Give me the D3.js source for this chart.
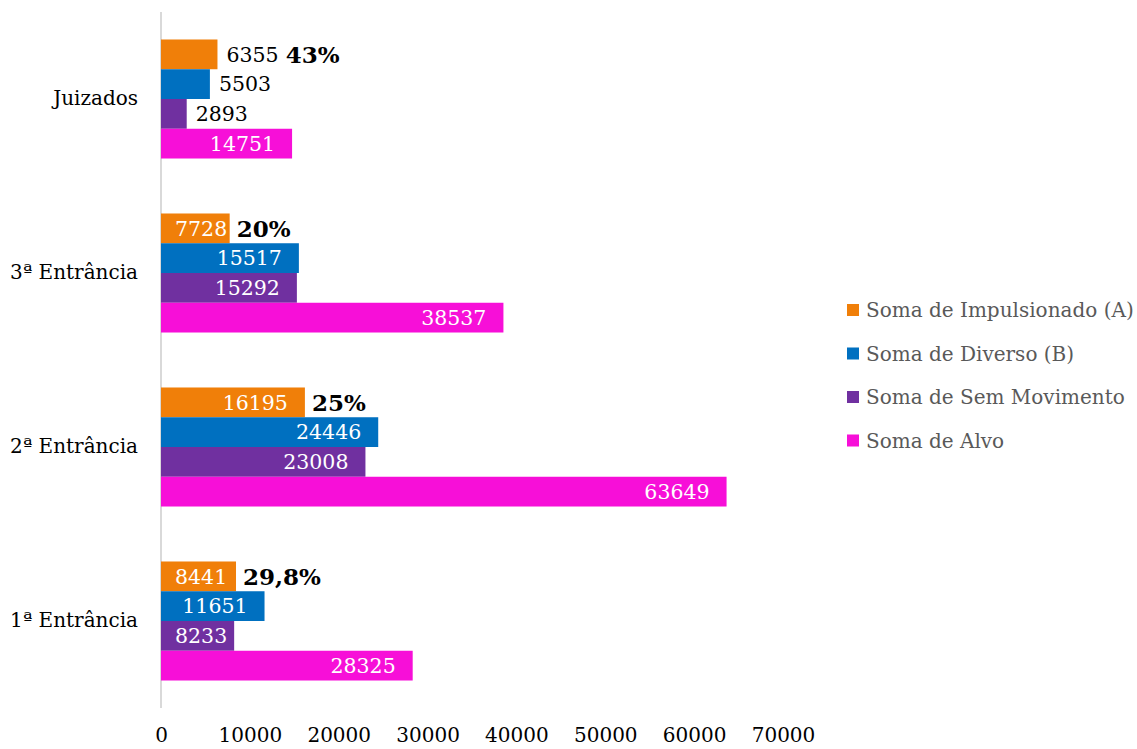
<!DOCTYPE html>
<html>
<head>
<meta charset="utf-8">
<script src="https://cdn.jsdelivr.net/npm/d3@7"></script>
<style>
  html, body { margin: 0; padding: 0; background: #fff; }
  svg { display: block; font-family: "DejaVu Serif", serif; }
</style>
</head>
<body>
<svg id="chart" width="1137" height="749"></svg>
<script>
// ---- data ----
const categories = ["Juizados", "3ª Entrância", "2ª Entrância", "1ª Entrância"];
const seriesNames = ["Soma de Impulsionado (A)", "Soma de Diverso (B)", "Soma de Sem Movimento", "Soma de Alvo"];
const impulsionado = [6355, 7728, 16195, 8441];
const diverso = [5503, 15517, 24446, 11651];
const semMovimento = [2893, 15292, 23008, 8233];
const alvo = [14751, 38537, 63649, 28325];
const percentLabels = ["43%", "20%", "25%", "29,8%"];
const xTicks = [0, 10000, 20000, 30000, 40000, 50000, 60000, 70000];
const colors = ["#F07F09", "#0070C0", "#7030A0", "#F70FD8"];

const seriesValues = [impulsionado, diverso, semMovimento, alvo];

const svg = d3.select("#chart");

const x = d3.scaleLinear().domain([0, 70000]).range([161, 783]);
const y = d3.scaleBand().domain(categories).range([12, 708]).paddingInner(0.316).paddingOuter(0.158);
const ySub = d3.scaleBand().domain(seriesNames).range([0, y.bandwidth()]);

// axis line (vertical)
svg.append("line")
  .attr("x1", x(0)).attr("x2", x(0))
  .attr("y1", 12).attr("y2", 708)
  .attr("stroke", "#d9d9d9").attr("stroke-width", 2);

// bottom tick labels
const xAxis = d3.axisBottom(x).tickValues(xTicks).tickFormat(d3.format("d")).tickSize(0).tickPadding(0);
const gx = svg.append("g").attr("transform", "translate(0,727)").call(xAxis);
gx.select(".domain").remove();
gx.selectAll("text")
  .attr("font-family", "DejaVu Serif")
  .attr("font-size", "20px")
  .attr("fill", "#000")
  .attr("dy", "0.75em");

// category labels
const gy = svg.append("g").attr("transform", "translate(138,0)")
  .call(d3.axisLeft(y).tickSize(0).tickPadding(0));
gy.select(".domain").remove();
gy.selectAll("text")
  .attr("font-family", "DejaVu Serif")
  .attr("font-size", "20px")
  .attr("fill", "#000");

// bars
const groups = svg.selectAll("g.cat")
  .data(categories)
  .enter().append("g")
  .attr("class", "cat")
  .attr("transform", d => `translate(0,${y(d)})`);

const barData = (c, ci) => seriesNames.map((s, si) => ({ cat: c, ci, s, si, v: seriesValues[si][ci] }));

groups.each(function(c, ci) {
  const g = d3.select(this);
  const bd = barData(c, ci);
  g.selectAll("rect").data(bd).enter().append("rect")
    .attr("x", x(0))
    .attr("y", d => ySub(d.s))
    .attr("width", d => x(d.v) - x(0))
    .attr("height", ySub.bandwidth())
    .attr("fill", d => colors[d.si]);

  let orangeLabelEnd = null;
  bd.forEach(d => {
    const barEnd = x(d.v);
    const barW = barEnd - x(0);
    const t = g.append("text")
      .attr("font-family", "DejaVu Serif")
      .attr("font-size", "20.5px")
      .attr("y", ySub(d.s) + ySub.bandwidth() / 2)
      .attr("dy", "0.36em")
      .text(d3.format("d")(d.v));
    const tw = t.node().getComputedTextLength();
    if (barW < tw + 10) {
      t.attr("x", barEnd + 9).attr("fill", "#000");
      if (d.si === 0) orangeLabelEnd = barEnd + 9 + tw;
    } else {
      const start = Math.max(barEnd - 17 - tw, x(0) + 14);
      t.attr("x", start).attr("fill", "#fff");
      if (d.si === 0) orangeLabelEnd = barEnd;
    }
  });

  // percentage label
  g.append("text")
    .attr("font-family", "DejaVu Serif")
    .attr("font-weight", "bold")
    .attr("font-size", "23px")
    .attr("fill", "#000")
    .attr("x", orangeLabelEnd + 7)
    .attr("y", ySub(seriesNames[0]) + ySub.bandwidth() / 2)
    .attr("dy", "0.36em")
    .text(percentLabels[ci]);
});

// legend
const legend = svg.append("g").attr("transform", "translate(847,310)");
const li = legend.selectAll("g").data(seriesNames).enter().append("g")
  .attr("transform", (d, i) => `translate(0,${i * 43.5})`);
li.append("rect").attr("x", 0).attr("y", -6).attr("width", 12).attr("height", 12)
  .attr("fill", (d, i) => colors[i]);
li.append("text").attr("x", 19).attr("y", 0).attr("dy", "0.36em")
  .attr("font-family", "DejaVu Serif")
  .attr("font-size", "20px")
  .attr("fill", "#595959")
  .text(d => d);
</script>
</body>
</html>
